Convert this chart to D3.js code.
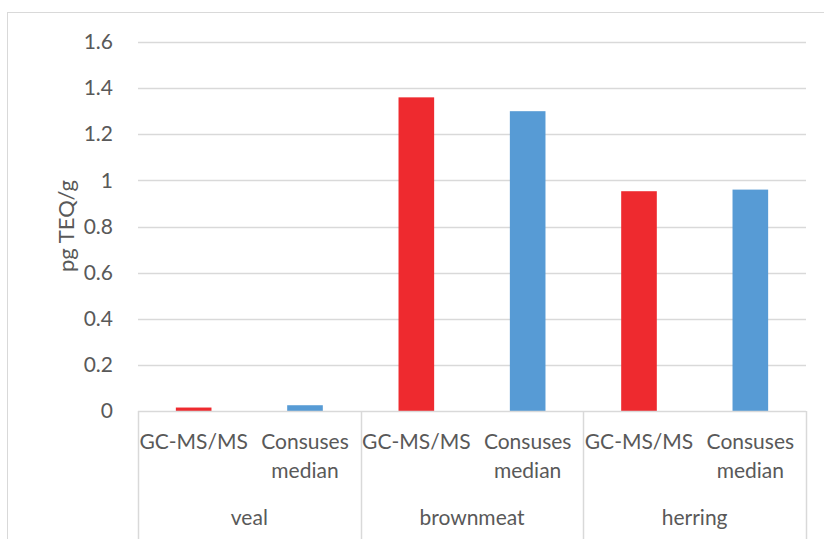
<!DOCTYPE html>
<html>
<head>
<meta charset="utf-8">
<script src="https://cdn.jsdelivr.net/npm/d3@7"></script>
<style>
  body { margin: 0; background: #fff; }
  svg { display: block; }
  text { font-family: Lato, "Open Sans", sans-serif; fill: #595959; }
</style>
</head>
<body>
<svg id="chart"></svg>
<script>
// podatki
const groups = ["veal", "brownmeat", "herring"];
const methods = ["GC-MS/MS", "Consuses median"];
const gcValues = [0.015, 1.36, 0.953];
const medianValues = [0.025, 1.30, 0.96];
const yTicks = [0, 0.2, 0.4, 0.6, 0.8, 1, 1.2, 1.4, 1.6];
const yTickLabels = ["0", "0.2", "0.4", "0.6", "0.8", "1", "1.2", "1.4", "1.6"];
const barColors = ["#ee2a2f", "#579bd5"];

const width = 824, height = 539;
const plotLeft = 138, plotRight = 806, plotTop = 42, plotBottom = 411;

const svg = d3.select("#chart").attr("width", width).attr("height", height);

// okvir grafa
svg.append("rect")
  .attr("x", 7.5).attr("y", 12.5)
  .attr("width", 840).attr("height", 560)
  .attr("fill", "none").attr("stroke", "#d9d9d9");

const x0 = d3.scaleBand().domain(groups).range([plotLeft, plotRight]);
const x1 = d3.scaleBand().domain(methods).range([0, x0.bandwidth()])
  .paddingInner(0.68).paddingOuter(0.34);
const y = d3.scaleLinear().domain([0, 1.6]).range([plotBottom, plotTop]);

// mreža
svg.append("g").selectAll("line")
  .data(yTicks.slice(1))
  .join("line")
  .attr("x1", plotLeft).attr("x2", plotRight)
  .attr("y1", d => Math.round(y(d)) + 0.5).attr("y2", d => Math.round(y(d)) + 0.5)
  .attr("stroke", "#d9d9d9").attr("stroke-width", 1.3);

// os y
const yAxis = svg.append("g")
  .attr("transform", `translate(${plotLeft},0)`)
  .call(d3.axisLeft(y).tickValues(yTicks)
    .tickFormat((d, i) => yTickLabels[i]).tickSize(0).tickPadding(25));
yAxis.select(".domain").remove();
yAxis.selectAll("text")
  .style("font-family", "Lato, 'Open Sans', sans-serif")
  .style("font-size", "21px").attr("fill", "#595959");

svg.append("text")
  .attr("transform", "translate(74,226) rotate(-90)")
  .attr("text-anchor", "middle")
  .attr("font-size", "22px")
  .text("pg TEQ/g");

// stolpci
const rows = [];
groups.forEach((g, i) => {
  rows.push({ group: g, method: methods[0], value: gcValues[i], c: 0 });
  rows.push({ group: g, method: methods[1], value: medianValues[i], c: 1 });
});

svg.append("g").selectAll("rect")
  .data(rows)
  .join("rect")
  .attr("x", d => x0(d.group) + x1(d.method))
  .attr("width", x1.bandwidth())
  .attr("y", d => y(d.value))
  .attr("height", d => y(0) - y(d.value))
  .attr("fill", d => barColors[d.c]);

// os x
svg.append("line")
  .attr("x1", plotLeft).attr("x2", plotRight)
  .attr("y1", plotBottom + 0.5).attr("y2", plotBottom + 0.5)
  .attr("stroke", "#d9d9d9").attr("stroke-width", 1.5);

const seps = groups.map(g => x0(g)).concat([plotRight]);
svg.append("g").selectAll("line")
  .data(seps)
  .join("line")
  .attr("x1", d => Math.round(d) + 0.5).attr("x2", d => Math.round(d) + 0.5)
  .attr("y1", plotBottom).attr("y2", height)
  .attr("stroke", "#d9d9d9").attr("stroke-width", 1.5);

// oznake metod
const labelG = svg.append("g");
rows.forEach(d => {
  const cx = x0(d.group) + x1(d.method) + x1.bandwidth() / 2;
  const t = labelG.append("text")
    .attr("text-anchor", "middle")
    .attr("font-size", "21px")
    .attr("x", cx).attr("y", 449);
  const words = d.method.split(" ");
  words.forEach((w, k) => {
    t.append("tspan").attr("x", cx).attr("dy", k === 0 ? 0 : 29).text(w);
  });
});

// oznake skupin
svg.append("g").selectAll("text")
  .data(groups)
  .join("text")
  .attr("x", d => x0(d) + x0.bandwidth() / 2)
  .attr("y", 525)
  .attr("text-anchor", "middle")
  .attr("font-size", "21px")
  .text(d => d);
</script>
</body>
</html>
